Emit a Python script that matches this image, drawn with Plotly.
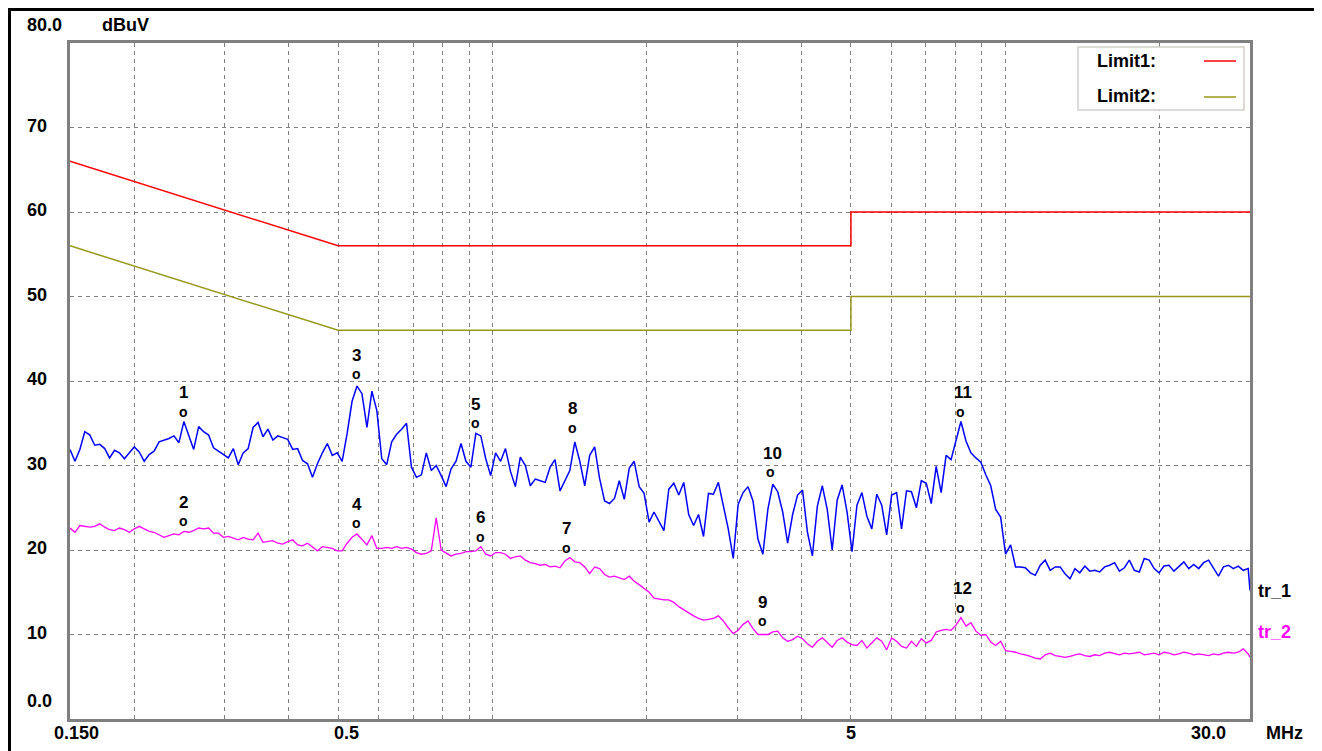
import numpy as np
import plotly.graph_objects as go

# ---------------- data ----------------
FREQ_MHZ = [
    0.1500, 0.1534, 0.1568, 0.1603, 0.1640, 0.1676, 0.1714, 0.1753, 0.1792, 0.1832,
    0.1873, 0.1915, 0.1958, 0.2002, 0.2047, 0.2093, 0.2140, 0.2188, 0.2238, 0.2288,
    0.2339, 0.2392, 0.2446, 0.2501, 0.2557, 0.2614, 0.2673, 0.2733, 0.2795, 0.2857,
    0.2921, 0.2987, 0.3054, 0.3123, 0.3193, 0.3265, 0.3338, 0.3413, 0.3490, 0.3568,
    0.3648, 0.3730, 0.3814, 0.3900, 0.3987, 0.4077, 0.4168, 0.4262, 0.4358, 0.4456,
    0.4556, 0.4658, 0.4763, 0.4870, 0.4979, 0.5091, 0.5206, 0.5323, 0.5442, 0.5565,
    0.5690, 0.5818, 0.5949, 0.6082, 0.6219, 0.6359, 0.6502, 0.6648, 0.6797, 0.6950,
    0.7106, 0.7266, 0.7429, 0.7596, 0.7767, 0.7942, 0.8120, 0.8303, 0.8490, 0.8681,
    0.8876, 0.9075, 0.9279, 0.9488, 0.9701, 0.9919, 1.014, 1.037, 1.060, 1.084,
    1.108, 1.133, 1.159, 1.185, 1.212, 1.239, 1.267, 1.295, 1.324, 1.354,
    1.384, 1.415, 1.447, 1.480, 1.513, 1.547, 1.582, 1.617, 1.654, 1.691,
    1.729, 1.767, 1.807, 1.848, 1.889, 1.932, 1.975, 2.020, 2.065, 2.112,
    2.159, 2.207, 2.257, 2.308, 2.360, 2.413, 2.467, 2.522, 2.579, 2.637,
    2.696, 2.757, 2.819, 2.882, 2.947, 3.013, 3.081, 3.150, 3.221, 3.293,
    3.367, 3.443, 3.520, 3.599, 3.680, 3.763, 3.848, 3.934, 4.023, 4.113,
    4.205, 4.300, 4.397, 4.495, 4.596, 4.700, 4.805, 4.913, 5.024, 5.137,
    5.252, 5.371, 5.491, 5.615, 5.741, 5.870, 6.002, 6.137, 6.275, 6.416,
    6.560, 6.708, 6.858, 7.013, 7.170, 7.331, 7.496, 7.665, 7.837, 8.013,
    8.193, 8.381, 8.569, 8.762, 8.959, 9.160, 9.366, 9.577, 9.792, 10.01,
    10.24, 10.47, 10.70, 10.94, 11.19, 11.44, 11.70, 11.96, 12.23, 12.51,
    12.79, 13.07, 13.37, 13.67, 13.97, 14.29, 14.61, 14.94, 15.27, 15.62,
    15.97, 16.33, 16.69, 17.07, 17.45, 17.85, 18.25, 18.66, 19.08, 19.51,
    19.94, 20.39, 20.85, 21.32, 21.80, 22.29, 22.79, 23.30, 23.83, 24.36,
    24.91, 25.47, 26.04, 26.63, 27.23, 27.84, 28.46, 29.10, 29.76, 30.00,
]

TR1_DBUV = [
    31.9, 30.5, 31.9, 34.0, 33.6, 32.4, 32.5, 32.0, 30.9, 31.8,
    31.5, 30.8, 31.5, 32.2, 31.6, 30.5, 31.3, 31.7, 32.8, 33.0,
    33.2, 33.5, 32.7, 35.2, 33.5, 31.9, 34.6, 34.0, 33.6, 32.1,
    31.7, 31.3, 30.9, 32.0, 30.1, 31.5, 32.0, 34.5, 35.1, 33.4,
    34.3, 33.0, 33.5, 33.3, 33.1, 31.9, 32.0, 30.6, 30.2, 28.6,
    30.2, 31.5, 32.6, 31.2, 31.5, 30.5, 33.8, 37.6, 39.4, 38.5,
    34.5, 38.8, 36.5, 30.8, 30.1, 32.8, 33.7, 34.3, 35.0, 29.8,
    28.6, 28.9, 31.5, 29.4, 30.0, 28.8, 27.5, 29.6, 30.5, 32.6,
    30.5, 29.8, 33.8, 33.5, 30.8, 28.8, 31.5, 30.5, 32.0, 29.3,
    27.5, 31.0, 30.0, 27.6, 28.4, 28.2, 28.0, 29.8, 30.7, 27.0,
    28.3, 29.4, 32.8, 30.5, 27.6, 31.2, 32.2, 28.5, 25.8, 25.5,
    26.1, 28.2, 26.0, 29.7, 30.5, 27.5, 26.7, 23.3, 24.5, 23.4,
    22.3, 27.2, 27.9, 26.5, 28.0, 24.2, 22.9, 24.2, 21.6, 26.7,
    26.6, 28.0, 25.3, 22.5, 19.0, 25.4, 26.8, 27.5, 25.8, 21.3,
    19.5, 24.8, 27.8, 26.9, 24.5, 20.8, 24.2, 26.5, 27.1, 22.1,
    19.3, 25.2, 27.6, 24.8, 20.0, 25.9, 27.7, 24.5, 19.8, 25.3,
    26.8, 24.0, 22.5, 26.6, 25.3, 21.8, 26.5, 26.8, 22.5, 27.0,
    26.9, 25.0, 28.2, 27.9, 25.5, 29.9, 26.8, 31.2, 30.7, 32.8,
    35.2, 32.9, 31.5, 30.9, 30.4, 28.9, 27.6, 24.8, 23.9, 19.5,
    20.6, 18.0, 18.0, 17.9, 17.3, 17.0, 18.2, 18.8, 17.6, 18.0,
    18.0, 17.2, 16.6, 17.8, 17.3, 18.1, 17.5, 17.6, 17.4, 18.0,
    18.2, 18.5, 17.5, 17.9, 18.8, 17.6, 17.4, 19.0, 18.8, 17.8,
    17.3, 18.1, 18.2, 17.5, 18.1, 18.6, 17.8, 18.3, 17.8, 18.5,
    18.8, 17.9, 16.9, 18.0, 18.2, 17.8, 18.1, 17.6, 17.8, 15.2,
]

TR2_DBUV = [
    22.6, 22.1, 22.9, 22.8, 22.7, 22.8, 23.1, 22.7, 22.4, 22.3,
    22.6, 22.4, 22.1, 22.5, 22.8, 22.5, 22.2, 22.1, 21.8, 21.5,
    21.7, 21.9, 21.8, 22.2, 22.1, 22.3, 22.6, 22.5, 22.6, 22.0,
    22.0, 21.5, 21.6, 21.4, 21.2, 21.5, 21.3, 21.2, 22.0, 20.9,
    21.0, 21.1, 20.8, 20.7, 21.0, 21.2, 20.6, 20.5, 20.8, 20.3,
    19.9, 20.4, 20.3, 20.2, 19.9, 19.9, 20.8, 21.5, 21.9, 21.3,
    20.6, 21.7, 20.2, 20.2, 20.3, 20.2, 20.4, 20.2, 20.3, 20.1,
    19.7, 19.5, 19.6, 19.9, 23.8, 20.0, 19.7, 19.3, 19.5, 19.6,
    19.8, 19.8, 19.9, 20.4, 19.5, 19.3, 19.7, 19.7, 19.5, 19.0,
    19.2, 19.3, 18.8, 18.5, 18.4, 18.2, 18.3, 18.0, 18.1, 17.9,
    18.7, 19.1, 18.6, 18.5, 18.0, 17.2, 18.0, 17.8, 17.1, 16.8,
    16.9, 16.7, 16.5, 16.9, 16.3, 15.9, 15.4, 15.0, 14.3, 14.2,
    14.1, 14.1, 13.8, 13.3, 12.9, 12.6, 12.2, 11.9, 11.7, 11.8,
    11.9, 12.2, 11.6, 10.8, 10.1, 10.5, 11.2, 11.6, 10.7, 10.0,
    10.0, 10.0, 10.3, 10.4, 9.6, 9.2, 9.4, 9.8, 9.5, 8.9,
    8.5, 9.2, 9.6, 9.0, 8.5, 9.3, 9.6, 9.1, 8.8, 8.7,
    9.3, 8.4, 9.0, 9.6, 9.2, 8.2, 9.6, 9.2, 8.6, 8.4,
    9.2, 8.6, 9.5, 9.0, 9.3, 10.3, 10.5, 10.6, 10.5, 11.1,
    12.0, 11.0, 11.4, 10.4, 9.9, 10.0, 9.1, 8.7, 9.2, 8.1,
    8.0, 7.9, 7.7, 7.6, 7.4, 7.2, 7.1, 7.6, 7.8, 7.5,
    7.4, 7.3, 7.4, 7.6, 7.7, 7.5, 7.4, 7.6, 7.5, 7.8,
    7.9, 7.7, 7.6, 7.8, 7.7, 7.8, 7.9, 7.6, 7.7, 7.8,
    7.6, 7.9, 7.8, 7.6, 7.7, 7.9, 7.8, 7.6, 7.7, 7.6,
    7.5, 7.7, 7.6, 7.8, 7.9, 7.8, 7.9, 8.3, 7.7, 7.3,
]

LIMIT_FREQ = [0.15, 0.5, 5.0, 5.0, 30.0]
LIMIT1_DBUV = [66, 56, 56, 60, 60]
LIMIT2_DBUV = [56, 46, 46, 50, 50]

MARK_LABELS = ["1", "2", "3", "4", "5", "6", "7", "8", "9", "10", "11", "12"]
MARK_FREQ = [0.250, 0.250, 0.544, 0.544, 0.928, 0.949, 1.397, 1.429, 3.368, 3.490, 8.19, 8.19]
MARK_LEVEL = [35.2, 22.2, 39.6, 22.0, 33.8, 20.4, 19.1, 33.3, 10.4, 28.0, 35.2, 12.0]

X_GRID = [0.2, 0.3, 0.4, 0.5, 0.6, 0.7, 0.8, 0.9, 1, 2, 3, 4, 5, 6, 7, 8, 9, 10, 20]
X_TICK_VALS = [0.15, 0.5, 5, 30]
X_TICK_TEXT = ["0.150", "0.5", "5", "30.0"]
Y_TICK_VALS = [0, 10, 20, 30, 40, 50, 60, 70, 80]
Y_TICK_TEXT = ["0.0", "10", "20", "30", "40", "50", "60", "70", "80.0"]

# ---------------- layout geometry ----------------
OFF = 8                       # page body margin in front of the figure
W, H = 1314, 743
ML, MR, MT, MB = 62, 72, 35, 32
PW, PH = W - ML - MR, H - MT - MB


def px_x(px):
    """page pixel -> paper x"""
    return (px - OFF - ML) / PW


def px_y(py):
    """page pixel -> paper y"""
    return (H - MB - (py - OFF)) / PH


FONT = dict(family="Liberation Sans, Arial, sans-serif", size=18, color="black", weight="bold")
NUM_FONT = dict(FONT, size=17)
O_FONT = dict(FONT, size=14)
RED = "#ff0000"
OLIVE = "#979719"
BLUE = "#0000ff"
MAGENTA = "#ff00ff"
GRID = "#808080"

fig = go.Figure()

fig.add_trace(go.Scatter(x=LIMIT_FREQ, y=LIMIT1_DBUV, mode="lines",
                         line=dict(color=RED, width=1.5), name="Limit1"))
fig.add_trace(go.Scatter(x=LIMIT_FREQ, y=LIMIT2_DBUV, mode="lines",
                         line=dict(color=OLIVE, width=1.5), name="Limit2"))
fig.add_trace(go.Scatter(x=FREQ_MHZ, y=TR2_DBUV, mode="lines",
                         line=dict(color=MAGENTA, width=1.3), name="tr_2"))
fig.add_trace(go.Scatter(x=FREQ_MHZ, y=TR1_DBUV, mode="lines",
                         line=dict(color=BLUE, width=1.5), name="tr_1"))

annotations = []

# marker labels: number above a small "o"
for lab, f, lv in zip(MARK_LABELS, MARK_FREQ, MARK_LEVEL):
    lx = float(np.log10(f))
    annotations.append(dict(x=lx, y=lv, xref="x", yref="y", text="o", showarrow=False,
                            font=O_FONT, yshift=10, xanchor="center", yanchor="middle"))
    annotations.append(dict(x=lx, y=lv, xref="x", yref="y", text=lab, showarrow=False,
                            font=NUM_FONT, yshift=29, xshift=2 if len(lab) > 1 else 0,
                            xanchor="center", yanchor="middle"))

# y tick labels (left aligned at the figure edge)
for v, t in zip(Y_TICK_VALS, Y_TICK_TEXT):
    ys = 18 if v in (0, 80) else 2
    annotations.append(dict(x=0, y=v, xref="paper", yref="y", text=t, showarrow=False,
                            font=FONT, xanchor="left", yanchor="middle",
                            xshift=-45, yshift=ys))
annotations.append(dict(x=0, y=80, xref="paper", yref="y", text="dBuV", showarrow=False,
                        font=FONT, xanchor="left", yanchor="middle", xshift=30, yshift=18))

# x tick labels
x_shifts = [6, 8, 0, -42]
for v, t, s in zip(X_TICK_VALS, X_TICK_TEXT, x_shifts):
    annotations.append(dict(x=float(np.log10(v)), y=0, xref="x", yref="paper", text=t,
                            showarrow=False, font=FONT, xanchor="center", yanchor="middle",
                            xshift=s, yshift=-14))
annotations.append(dict(x=1, y=0, xref="paper", yref="paper", text="MHz", showarrow=False,
                        font=FONT, xanchor="center", yanchor="middle", xshift=34, yshift=-14))

# trace name labels at the right end
annotations.append(dict(x=1, y=TR1_DBUV[-1], xref="paper", yref="y", text="tr_1",
                        showarrow=False, font=FONT, xanchor="left", yanchor="middle", xshift=6))
annotations.append(dict(x=1, y=TR2_DBUV[-1], xref="paper", yref="y", text="tr_2",
                        showarrow=False, font=dict(FONT, color=MAGENTA), xanchor="left",
                        yanchor="middle", xshift=6, yshift=25))

# legend box contents
annotations.append(dict(x=px_x(1095), y=px_y(61), xref="paper", yref="paper", text="Limit1:",
                        showarrow=False, font=FONT, xanchor="left", yanchor="middle"))
annotations.append(dict(x=px_x(1095), y=px_y(96), xref="paper", yref="paper", text="Limit2:",
                        showarrow=False, font=FONT, xanchor="left", yanchor="middle"))

shapes = [
    # legend box
    dict(type="rect", xref="paper", yref="paper", x0=px_x(1078), x1=px_x(1244),
         y0=px_y(110), y1=px_y(47), line=dict(color="#d4d0c8", width=1.5), fillcolor="white",
         layer="above"),
    dict(type="line", xref="paper", yref="paper", x0=px_x(1204), x1=px_x(1236),
         y0=px_y(61), y1=px_y(61), line=dict(color=RED, width=1.5)),
    dict(type="line", xref="paper", yref="paper", x0=px_x(1204), x1=px_x(1236),
         y0=px_y(97), y1=px_y(97), line=dict(color=OLIVE, width=1.5)),
    # outer black frame
    dict(type="rect", xref="paper", yref="paper", x0=px_x(9.5), x1=px_x(1319),
         y0=px_y(800), y1=px_y(9.5), line=dict(color="black", width=3),
         fillcolor="rgba(0,0,0,0)"),
]

fig.update_layout(
    width=W, height=H,
    margin=dict(l=ML, r=MR, t=MT, b=MB, pad=0),
    paper_bgcolor="white", plot_bgcolor="white",
    showlegend=False,
    annotations=annotations,
    shapes=shapes,
    xaxis=dict(type="log", range=[np.log10(0.15), np.log10(30)], tickmode="array",
               tickvals=X_GRID, showticklabels=False, ticks="", showgrid=True,
               gridcolor=GRID, gridwidth=1, griddash="4px,4px", zeroline=False,
               showline=True, mirror=True, linecolor=GRID, linewidth=3),
    yaxis=dict(range=[0, 80], tickmode="array", tickvals=Y_TICK_VALS[1:-1],
               showticklabels=False, ticks="", showgrid=True, gridcolor=GRID, gridwidth=1,
               griddash="4px,4px", zeroline=False, showline=True, mirror=True,
               linecolor=GRID, linewidth=3),
)

fig.write_html("out.html")
